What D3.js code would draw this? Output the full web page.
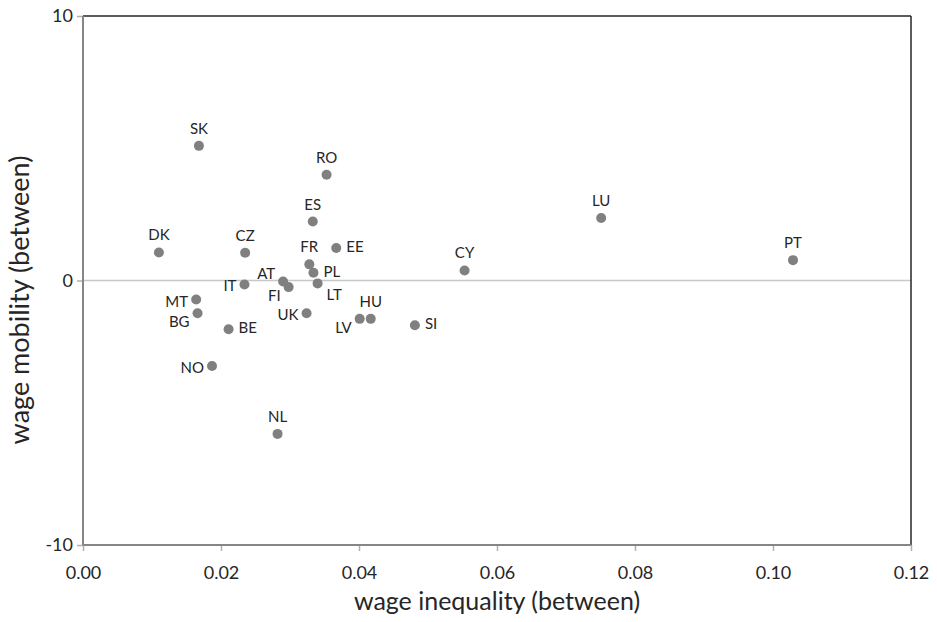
<!DOCTYPE html>
<html>
<head>
<meta charset="utf-8">
<script src="https://cdn.jsdelivr.net/npm/d3@7"></script>
<style>
  body { margin: 0; background: #fff; }
  svg text { font-family: Lato, "Open Sans", sans-serif; fill: #262626; }
  .axis path { display: none; }
  .axis line { stroke: #b0b0b0; stroke-width: 1.5; }
</style>
</head>
<body>
<svg id="scatter" width="937" height="622"></svg>
<script>
    // country codes, wage inequality (x) and wage mobility (y)
    const countries = ["SK","DK","CZ","ES","RO","EE","FR","PL","CY","LU","PT","AT","FI","LT","IT","MT","BG","BE","UK","LV","HU","SI","NO","NL"];
    const inequality = [0.0168,0.0110,0.0235,0.0333,0.0353,0.0367,0.0328,0.0334,0.0553,0.0751,0.1029,0.0290,0.0298,0.0340,0.0234,0.0164,0.0166,0.0211,0.0324,0.0401,0.0417,0.0481,0.0187,0.0282];
    const mobility   = [5.09,1.06,1.05,2.23,4.00,1.23,0.61,0.29,0.38,2.36,0.77,-0.04,-0.25,-0.11,-0.15,-0.72,-1.24,-1.84,-1.24,-1.45,-1.45,-1.69,-3.23,-5.80];
    // where each label sits relative to its point
    const labelSide  = ["n","n","n","n","n","e","n","e","n","n","n","nw","sw","se","w","w","sw","e","w","sw","n","e","w","n"];

    const xTicks = [0, 0.02, 0.04, 0.06, 0.08, 0.10, 0.12];
    const yTicks = [-10, 0, 10];

    let svg = d3.select("svg#scatter");
    let margin = { top: 16, left: 83, right: 26, bottom: 77 };
    let chartWidth = 937 - margin.left - margin.right;   // 828
    let chartHeight = 622 - margin.top - margin.bottom;  // 529

    const xScale = d3.scaleLinear().domain([0, 0.12]).range([0, chartWidth]);
    const yScale = d3.scaleLinear().domain([-10, 10]).range([chartHeight, 0]);

    let plot = svg.append("g").attr("transform", "translate(" + margin.left + "," + margin.top + ")");

    // zero line
    plot.append("line")
      .attr("x1", 0).attr("x2", chartWidth)
      .attr("y1", yScale(0)).attr("y2", yScale(0))
      .attr("stroke", "#c8c8c8").attr("stroke-width", 1.5);

    // axes (ticks + labels)
    let bottomAxis = d3.axisBottom(xScale).tickValues(xTicks).tickFormat(d3.format(".2f")).tickSize(6).tickPadding(15);
    plot.append("g").attr("class", "x axis")
      .attr("transform", "translate(0," + chartHeight + ")")
      .call(bottomAxis)
      .selectAll("text").style("font-size", "18px");

    // plain hyphen for negatives, like the original
    let leftAxis = d3.axisLeft(yScale).tickValues(yTicks).tickFormat(d => String(d)).tickSize(6).tickPadding(4);
    plot.append("g").attr("class", "y axis")
      .call(leftAxis)
      .selectAll("text").style("font-size", "18px");

    // frame: top/right dark, left/bottom gray
    plot.append("line").attr("x1", 0).attr("x2", chartWidth).attr("y1", 0).attr("y2", 0)
      .attr("stroke", "#262626").attr("stroke-width", 1.5);
    plot.append("line").attr("x1", chartWidth).attr("x2", chartWidth).attr("y1", 0).attr("y2", chartHeight)
      .attr("stroke", "#262626").attr("stroke-width", 1.5);
    plot.append("line").attr("x1", 0).attr("x2", 0).attr("y1", 0).attr("y2", chartHeight)
      .attr("stroke", "#868686").attr("stroke-width", 2);
    plot.append("line").attr("x1", 0).attr("x2", chartWidth).attr("y1", chartHeight).attr("y2", chartHeight)
      .attr("stroke", "#868686").attr("stroke-width", 2);

    // points + labels
    countries.forEach((c, i) => {
      let cx = xScale(inequality[i]);
      let cy = yScale(mobility[i]);
      plot.append("circle")
        .attr("cx", cx).attr("cy", cy).attr("r", 5)
        .style("fill", "#808080");

      let side = labelSide[i];
      let lx = cx, ly = cy - 18, anchor = "middle";
      if (side == "e")  { lx = cx + 10; ly = cy - 2; anchor = "start"; }
      if (side == "w")  { lx = cx - 8;  ly = cy + 1; anchor = "end"; }
      if (side == "nw") { lx = cx - 8;  ly = cy - 9; anchor = "end"; }
      if (side == "sw") { lx = cx - 8;  ly = cy + 8; anchor = "end"; }
      if (side == "se") { lx = cx + 9;  ly = cy + 11; anchor = "start"; }

      plot.append("text")
        .attr("x", lx).attr("y", ly)
        .attr("text-anchor", anchor)
        .attr("dominant-baseline", "central")
        .style("font-size", "15px")
        .text(c);
    });

    // axis titles
    svg.append("text")
      .attr("x", margin.left + chartWidth / 2).attr("y", 610)
      .attr("text-anchor", "middle")
      .style("font-size", "25px")
      .text("wage inequality (between)");

    svg.append("text")
      .attr("transform", "translate(18,300) rotate(-90)")
      .attr("text-anchor", "middle")
      .attr("dominant-baseline", "central")
      .style("font-size", "27px")
      .text("wage mobility (between)");
</script>
</body>
</html>
